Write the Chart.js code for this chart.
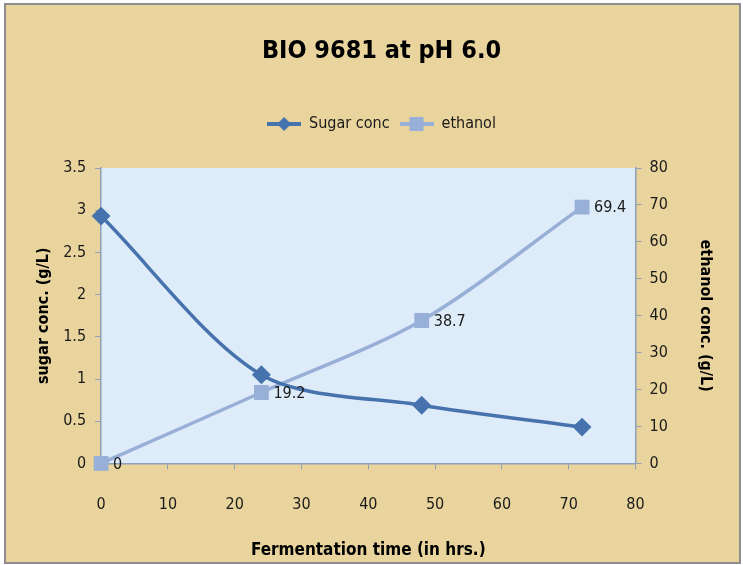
<!DOCTYPE html>
<html>
<head>
<meta charset="utf-8">
<script src="https://cdn.jsdelivr.net/npm/chart.js@4.4.0/dist/chart.umd.min.js"></script>
<style>
  html, body { margin: 0; padding: 0; background: #ffffff; }
  #wrap { width: 743px; height: 565px; }
</style>
</head>
<body>
<div id="wrap"><canvas id="bioChart" width="743" height="565"></canvas></div>
<script>
const hours = [0, 24, 48, 72];
const sugarConc = [2.93, 1.05, 0.69, 0.43];
const ethanolConc = [0, 19.2, 38.7, 69.4];
const xTicks = [0, 10, 20, 30, 40, 50, 60, 70, 80];

const FONT = "'Liberation Sans Narrow', 'DejaVu Sans Condensed', 'Open Sans', sans-serif";
const SUGAR = '#4673ad';
const ETHANOL = '#98afd8';

// legend icon: short line with the marker on top
function legendIcon(color, style) {
    const c = document.createElement('canvas');
    c.width = 34; c.height = 16;
    const g = c.getContext('2d');
    g.strokeStyle = color; g.lineWidth = 4;
    g.beginPath(); g.moveTo(0, 8); g.lineTo(34, 8); g.stroke();
    g.fillStyle = color;
    if (style === 'diamond') {
        g.beginPath(); g.moveTo(17, 1); g.lineTo(24, 8); g.lineTo(17, 15); g.lineTo(10, 8); g.closePath(); g.fill();
    } else {
        g.fillRect(10, 1, 14, 14);
    }
    return c;
}
const icons = [legendIcon(SUGAR, 'diamond'), legendIcon(ETHANOL, 'square')];

const backdrop = {
    id: 'backdrop',
    beforeInit(chart) {
        // extra room under the legend
        const lg = chart.legend;
        const fit = lg.fit;
        lg.fit = function () { fit.call(this); this.height += 26; };
    },
    beforeDraw(chart) {
        const ctx = chart.ctx, a = chart.chartArea;
        ctx.save();
        ctx.fillStyle = '#ffffff';
        ctx.fillRect(0, 0, chart.width, chart.height);
        ctx.fillStyle = '#e8d49c';
        ctx.fillRect(5, 4, chart.width - 8, chart.height - 6);
        ctx.strokeStyle = '#8e8e8e';
        ctx.lineWidth = 2;
        ctx.strokeRect(5, 4, chart.width - 8, chart.height - 6);
        ctx.fillStyle = '#deebf8';
        ctx.fillRect(a.left, a.top, a.right - a.left, a.bottom - a.top);
        ctx.restore();
    }
};

const ethanolLabels = {
    id: 'ethanolLabels',
    afterDatasetsDraw(chart) {
        const ctx = chart.ctx;
        const meta = chart.getDatasetMeta(1);
        ctx.save();
        ctx.font = '16px ' + FONT;
        ctx.fillStyle = '#1a1a1a';
        ctx.textBaseline = 'middle';
        meta.data.forEach((pt, i) => {
            ctx.fillText(String(ethanolConc[i]), pt.x + 12, pt.y + 1);
        });
        ctx.restore();
    }
};

const tickFmt = v => String(v);

new Chart(document.getElementById('bioChart'), {
    type: 'line',
    data: {
        datasets: [
            {
                label: 'Sugar conc',
                data: hours.map((h, i) => ({ x: h, y: sugarConc[i] })),
                borderColor: SUGAR,
                backgroundColor: SUGAR,
                borderWidth: 3.5,
                pointStyle: 'rectRot',
                pointRadius: 7,
                pointHoverRadius: 7,
                tension: 0.3,
                yAxisID: 'y'
            },
            {
                label: 'ethanol',
                data: hours.map((h, i) => ({ x: h, y: ethanolConc[i] })),
                borderColor: ETHANOL,
                backgroundColor: ETHANOL,
                borderWidth: 3.5,
                pointStyle: 'rect',
                pointRadius: 8,
                pointHoverRadius: 8,
                tension: 0.3,
                yAxisID: 'y2'
            }
        ]
    },
    options: {
        responsive: false,
        animation: false,
        clip: false,
        layout: { padding: { top: 36, left: 34, right: 14, bottom: 4 } },
        plugins: {
            title: {
                display: true,
                text: 'BIO 9681 at pH 6.0',
                color: '#000000',
                font: { family: FONT, size: 25, weight: 'bold' },
                padding: { top: 0, bottom: 40 }
            },
            legend: {
                position: 'top',
                labels: {
                    usePointStyle: true,
                    pointStyleWidth: 34,
                    color: '#1a1a1a',
                    font: { family: FONT, size: 16 },
                    padding: 10,
                    generateLabels(chart) {
                        return chart.data.datasets.map((ds, i) => ({
                            text: ds.label,
                            pointStyle: icons[i],
                            fillStyle: ds.borderColor,
                            strokeStyle: ds.borderColor,
                            lineWidth: 0,
                            datasetIndex: i,
                            fontColor: '#1a1a1a'
                        }));
                    }
                }
            },
            tooltip: { enabled: false }
        },
        scales: {
            x: {
                type: 'linear',
                min: 0,
                max: 80,
                afterBuildTicks(axis) { axis.ticks = xTicks.map(v => ({ value: v })); },
                grid: { display: true, drawOnChartArea: false, drawTicks: true, tickLength: 6, color: '#8ea0b8' },
                border: { color: '#8ea0b8', width: 1.5 },
                ticks: { color: '#1a1a1a', font: { family: FONT, size: 16 }, padding: 26 },
                title: {
                    display: true,
                    text: 'Fermentation time (in hrs.)',
                    color: '#000000',
                    font: { family: FONT, size: 17, weight: 'bold' },
                    padding: { top: 0, bottom: 0 }
                }
            },
            y: {
                position: 'left',
                min: 0,
                max: 3.5,
                ticks: { stepSize: 0.5, callback: tickFmt, color: '#1a1a1a', font: { family: FONT, size: 16 }, padding: 9 },
                grid: { display: true, drawOnChartArea: false, drawTicks: true, tickLength: 6, color: '#8ea0b8' },
                border: { color: '#8ea0b8', width: 1.5 },
                title: {
                    display: true,
                    text: 'sugar conc. (g/L)',
                    color: '#000000',
                    font: { family: FONT, size: 16, weight: 'bold' },
                    padding: { top: 0, bottom: 1 }
                }
            },
            y2: {
                position: 'right',
                min: 0,
                max: 80,
                ticks: { stepSize: 10, callback: tickFmt, color: '#1a1a1a', font: { family: FONT, size: 16 }, padding: 8 },
                grid: { display: true, drawOnChartArea: false, drawTicks: true, tickLength: 6, color: '#8ea0b8' },
                border: { color: '#8ea0b8', width: 1.5 },
                title: {
                    display: true,
                    text: 'ethanol conc. (g/L)',
                    color: '#000000',
                    font: { family: FONT, size: 16, weight: 'bold' },
                    padding: { top: 14, bottom: 20 }
                }
            }
        }
    },
    plugins: [backdrop, ethanolLabels]
});
</script>
</body>
</html>
